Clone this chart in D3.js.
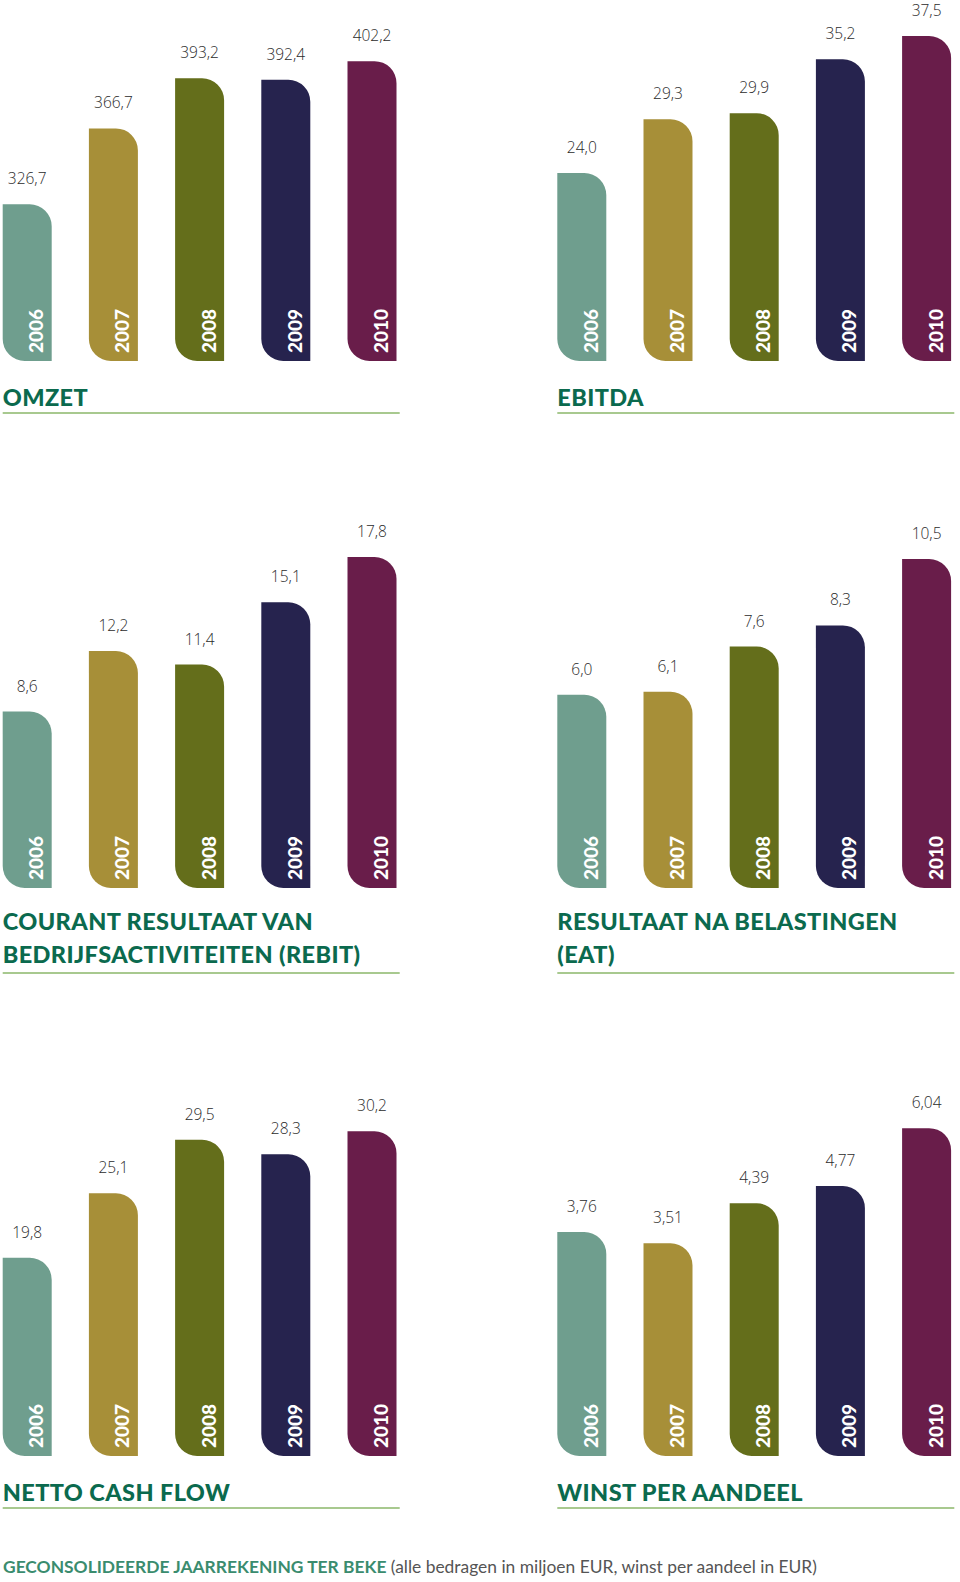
<!DOCTYPE html>
<html>
<head>
<meta charset="utf-8">
<script src="https://cdn.jsdelivr.net/npm/d3@7/dist/d3.min.js"></script>
<style>
  html, body { margin: 0; padding: 0; background: #fff; }
  svg { display: block; }
</style>
</head>
<body>
<svg id="chart" width="960" height="1582"></svg>
<script>
// ---------- data ----------
const years = ["2006", "2007", "2008", "2009", "2010"];
const omzet = [326.7, 366.7, 393.2, 392.4, 402.2];
const ebitda = [24.0, 29.3, 29.9, 35.2, 37.5];
const rebit = [8.6, 12.2, 11.4, 15.1, 17.8];
const eat = [6.0, 6.1, 7.6, 8.3, 10.5];
const cashFlow = [19.8, 25.1, 29.5, 28.3, 30.2];
const eps = [3.76, 3.51, 4.39, 4.77, 6.04];
const titles = [
  ["OMZET"],
  ["EBITDA"],
  ["COURANT RESULTAAT VAN", "BEDRIJFSACTIVITEITEN (REBIT)"],
  ["RESULTAAT NA BELASTINGEN", "(EAT)"],
  ["NETTO CASH FLOW"],
  ["WINST PER AANDEEL"]
];
const decimals = [1, 1, 1, 1, 1, 2];
const footerBold = "GECONSOLIDEERDE JAARREKENING TER BEKE";
const footerRest = " (alle bedragen in miljoen EUR, winst per aandeel in EUR)";

// ---------- layout / style ----------
const series = [omzet, ebitda, rebit, eat, cashFlow, eps];
const domains = [[244, 416], [5.5, 37.6], [-1.9, 17.5], [-0.4, 10.4], [3.5, 30.3], [-1.16, 6.0]];
const colors = ["#6f9e8e", "#a78f38", "#646e1b", "#26234e", "#691d4a"];
const colX = [2.7, 557.3];
const rowBottom = [361, 888, 1456];
const rowTitleY = [406, 930, 1501];
const rowRuleY = [413, 973, 1508];
const maxH = 326;
const R = 22;

const loc = d3.formatLocale({ decimal: ",", thousands: ".", grouping: [3], currency: ["€", ""] });
const svg = d3.select("#chart");

series.forEach((vals, i) => {
  const col = i % 2, row = Math.floor(i / 2);
  const x0 = colX[col];
  const bottom = rowBottom[row];
  const x = d3.scaleBand().domain(years).range([x0, x0 + 393.8]).paddingInner(0.4316).paddingOuter(0);
  const y = d3.scaleLinear().domain(domains[i]).range([bottom, bottom - maxH]);
  const fmt = loc.format("." + decimals[i] + "f");
  const w = x.bandwidth();
  const g = svg.append("g");

  const data = years.map((yr, k) => ({ yr, v: vals[k], c: colors[k] }));

  g.selectAll("path.bar").data(data).join("path")
    .attr("class", "bar")
    .attr("fill", d => d.c)
    .attr("d", d => {
      const bx = x(d.yr), top = y(d.v);
      return `M${bx},${top}H${bx + w - R}A${R},${R} 0 0 1 ${bx + w},${top + R}V${bottom}H${bx + R}A${R},${R} 0 0 1 ${bx},${bottom - R}Z`;
    });

  g.selectAll("text.val").data(data).join("text")
    .attr("class", "val")
    .attr("x", d => x(d.yr) + w / 2)
    .attr("y", d => y(d.v) - 20)
    .attr("text-anchor", "middle")
    .attr("font-family", "'Open Sans', sans-serif")
    .attr("font-weight", 300)
    .attr("font-size", 15.5)
    .attr("fill", "#2b2b2b")
    .text(d => fmt(d.v));

  g.selectAll("text.yr").data(data).join("text")
    .attr("class", "yr")
    .attr("transform", d => `translate(${x(d.yr) + w - 8.5},${bottom - 8}) rotate(-90)`)
    .attr("text-anchor", "start")
    .attr("font-family", "Lato, sans-serif")
    .attr("font-weight", 900)
    .attr("font-size", 19)
    .attr("fill", "#ffffff")
    .text(d => d.yr);

  const t = g.append("text")
    .attr("font-family", "Lato, sans-serif")
    .attr("font-weight", 900)
    .attr("font-size", 23.5)
    .attr("letter-spacing", 0.4)
    .attr("fill", "#0b6a4e");
  titles[i].forEach((line, li) => {
    t.append("tspan").attr("x", x0).attr("y", rowTitleY[row] + li * 33).text(line);
  });

  g.append("line")
    .attr("x1", x0).attr("x2", x0 + 397)
    .attr("y1", rowRuleY[row]).attr("y2", rowRuleY[row])
    .attr("stroke", "#a8c98f").attr("stroke-width", 2);
});

const foot = svg.append("text")
  .attr("x", 3).attr("y", 1573)
  .attr("font-family", "Lato, sans-serif")
  .attr("font-size", 17.4);
foot.append("tspan").attr("font-weight", 700).attr("fill", "#3a8c6e").text(footerBold);
foot.append("tspan").attr("font-weight", 400).attr("fill", "#555555").text(footerRest);
</script>
</body>
</html>
